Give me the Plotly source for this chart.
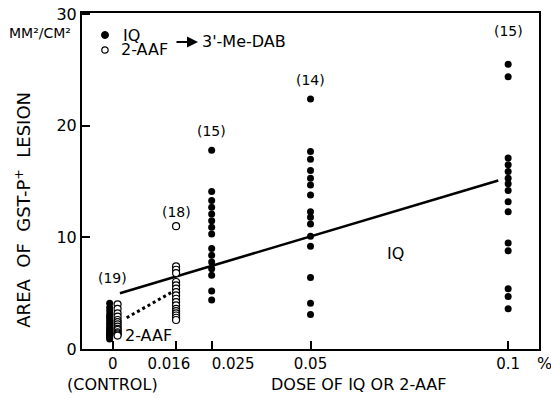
import plotly.graph_objects as go

# ---- data ----
dose_ticks = [0, 0.016, 0.025, 0.05, 0.1]
dose_tick_labels = ["0", "0.016", "0.025", "0.05", "0.1"]
y_ticks = [0, 10, 20, 30]

# IQ (filled) lesion areas, mm2/cm2
iq_control = [4.1, 3.7, 3.4, 3.1, 2.9, 2.7, 2.5, 2.3, 2.1, 1.9, 1.8, 1.6, 1.5, 1.4, 1.3, 1.2, 1.1, 1.0, 0.9]
iq_0025 = [17.8, 14.1, 13.3, 12.7, 12.1, 11.5, 10.9, 10.3, 9.0, 8.4, 7.8, 7.2, 6.6, 5.2, 4.4]
iq_005 = [22.4, 17.7, 17.0, 16.0, 15.3, 14.7, 13.8, 12.3, 11.8, 11.2, 10.1, 9.2, 6.4, 4.1, 3.1]
iq_01 = [25.5, 24.4, 17.1, 16.5, 15.9, 15.3, 14.8, 14.2, 13.2, 12.3, 9.5, 8.8, 5.4, 4.7, 3.6]

# 2-AAF (open) lesion areas
aaf_control = [4.0, 3.6, 3.2, 2.9, 2.6, 2.4, 2.2, 2.0, 1.8, 1.7, 1.5, 1.4, 1.3, 1.2]
aaf_0016 = [11.0, 7.4, 7.1, 6.8, 6.0, 5.7, 5.4, 5.1, 4.8, 4.5, 4.2, 3.9, 3.6, 3.4, 3.2, 3.0, 2.8, 2.6]

# group sizes shown above columns
n_labels = ["(19)", "(18)", "(15)", "(14)", "(15)"]
n_label_doses = [0, 0.016, 0.025, 0.05, 0.1]
n_label_y = [6.4, 12.3, 19.5, 24.1, 28.5]

# regression lines
iq_fit_x = [0.0018, 0.0975]
iq_fit_y = [5.0, 15.1]
aaf_fit_x = [0.0035, 0.0150]
aaf_fit_y = [2.8, 5.1]

# small horizontal display offset of the two control columns
ctrl_offset_iq = -0.0008
ctrl_offset_aaf = 0.0012

FONT = "DejaVu Sans, sans-serif"
K = "black"
NB = "\u00a0"

# the crowded 0.016 / 0.025 labels are pushed apart, as in the original
tick_text = [dose_tick_labels[0], dose_tick_labels[1] + NB * 3, NB * 9 + dose_tick_labels[2],
             dose_tick_labels[3], dose_tick_labels[4]]

iq_x = ([0 + ctrl_offset_iq] * len(iq_control) + [0.025] * len(iq_0025)
        + [0.05] * len(iq_005) + [0.1] * len(iq_01))
iq_y = iq_control + iq_0025 + iq_005 + iq_01
aaf_x = [0 + ctrl_offset_aaf] * len(aaf_control) + [0.016] * len(aaf_0016)
aaf_y = aaf_control + aaf_0016

fig = go.Figure()
fig.add_trace(go.Scatter(x=iq_fit_x, y=iq_fit_y, mode="lines",
                         line=dict(color=K, width=2.6), showlegend=False, hoverinfo="skip"))
fig.add_trace(go.Scatter(x=aaf_fit_x, y=aaf_fit_y, mode="lines",
                         line=dict(color=K, width=3, dash="dot"), showlegend=False, hoverinfo="skip"))
fig.add_trace(go.Scatter(x=iq_x, y=iq_y, mode="markers", name="IQ", showlegend=False,
                         marker=dict(symbol="circle", size=7, color=K)))
fig.add_trace(go.Scatter(x=aaf_x, y=aaf_y, mode="markers", name="2-AAF", showlegend=False,
                         marker=dict(symbol="circle", size=7, color="white",
                                     line=dict(color=K, width=1.2))))


def txt(x, y, t, size, xref="x", yref="y", xanchor="center", **kw):
    return dict(x=x, y=y, xref=xref, yref=yref, text=t, showarrow=False,
                xanchor=xanchor, yanchor="middle",
                font=dict(size=size, color=K, family=FONT), **kw)


ann = [txt(xd, yd, t, 14) for t, xd, yd in zip(n_labels, n_label_doses, n_label_y)]
ann += [
    txt(0.0715, 8.6, "IQ", 16),
    txt(0.0089, 1.2, "2-AAF", 16),
    # legend texts
    txt(0.085, 0.9345, "IQ", 16, "paper", "paper", xanchor="left"),
    txt(0.081, 0.8899, "2-AAF", 16, "paper", "paper", xanchor="left"),
    dict(x=0.2538, y=0.9137, xref="paper", yref="paper", text="", showarrow=True,
         ax=-23, ay=0, arrowhead=2, arrowsize=1.1, arrowwidth=2, arrowcolor=K),
    txt(0.258, 0.9137, "3'-Me-DAB", 16, "paper", "paper", xanchor="left"),
    txt(-0.092, 0.94, "MM²/CM²", 14, "paper", "paper"),
    txt(0, -0.107, "(CONTROL)", 16, "x", "paper"),
    txt(0.605, -0.107, "DOSE OF IQ OR 2-AAF", 16, "paper", "paper"),
    txt(1.012, -0.042, "%", 16, "paper", "paper"),
    dict(x=-0.131, y=0.415, xref="paper", yref="paper", xanchor="center", yanchor="middle",
         text="AREA&nbsp;&nbsp;OF&nbsp;&nbsp;GST-P<sup>+</sup>&nbsp;&nbsp;LESION",
         textangle=-90, showarrow=False, font=dict(size=18, color=K, family=FONT)),
]

# legend symbols
shapes = [
    dict(type="circle", xref="paper", yref="paper", xsizemode="pixel", ysizemode="pixel",
         xanchor=0.0503, yanchor=0.9345, x0=-3.5, x1=3.5, y0=-3.5, y1=3.5,
         fillcolor=K, line=dict(color=K, width=1)),
    dict(type="circle", xref="paper", yref="paper", xsizemode="pixel", ysizemode="pixel",
         xanchor=0.0503, yanchor=0.8899, x0=-3.2, x1=3.2, y0=-3.2, y1=3.2,
         fillcolor="white", line=dict(color=K, width=1.2)),
]

fig.update_layout(
    width=551, height=398,
    margin=dict(l=82, r=12, t=13, b=49, autoexpand=False),
    paper_bgcolor="white", plot_bgcolor="white",
    font=dict(family=FONT, size=15, color=K),
    annotations=ann, shapes=shapes, showlegend=False,
    xaxis=dict(range=[-0.0078, 0.1078], tickvals=dose_ticks, ticktext=tick_text, tickangle=0,
               ticks="inside", ticklen=8, tickwidth=2, tickcolor=K,
               showline=True, linecolor=K, linewidth=2, mirror=True,
               showgrid=False, zeroline=False, tickfont=dict(size=15), automargin=False),
    yaxis=dict(range=[0, 30.1], tickvals=y_ticks,
               ticks="inside", ticklen=8, tickwidth=2, tickcolor=K,
               showline=True, linecolor=K, linewidth=2, mirror=True,
               showgrid=False, zeroline=False, tickfont=dict(size=16), automargin=False),
)

fig.write_html("out.html", config={"displayModeBar": False},
               post_script="document.body.style.margin='0px';")
